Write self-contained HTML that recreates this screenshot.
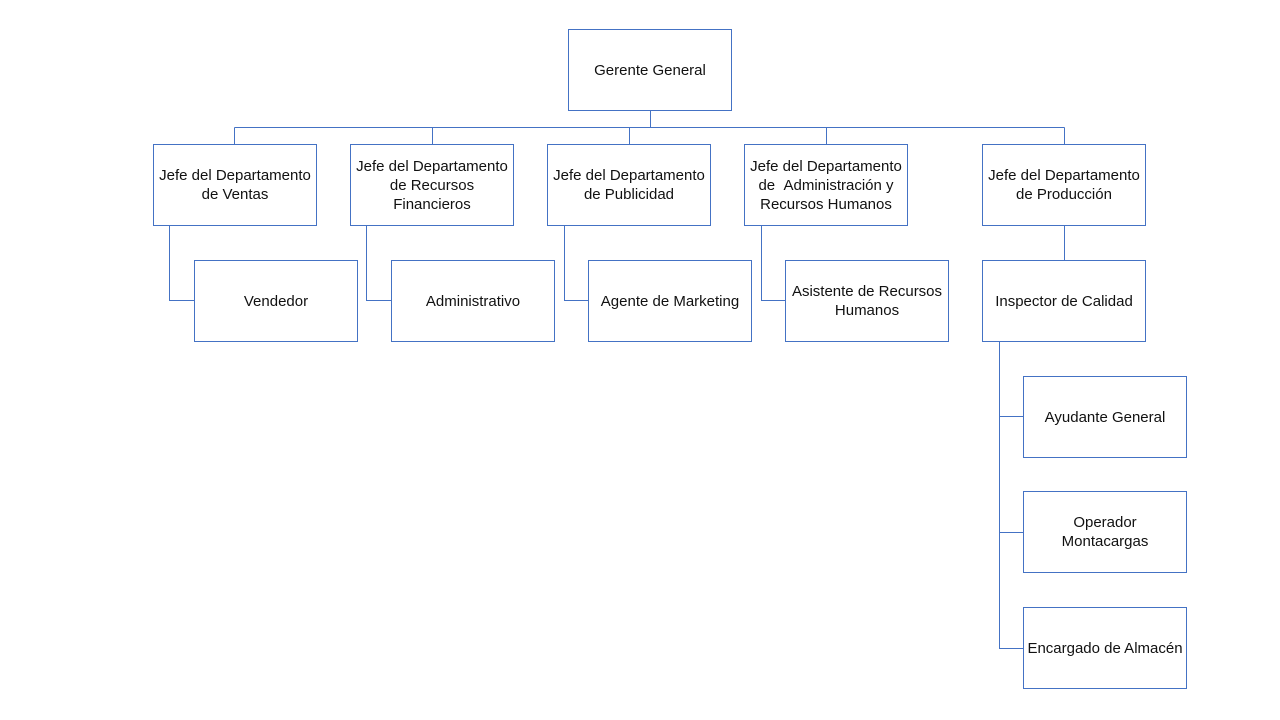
<!DOCTYPE html>
<html><head><meta charset="utf-8"><style>
body{margin:0;background:#fff;width:1280px;height:720px;position:relative;overflow:hidden;font-family:"Liberation Sans","DejaVu Sans",sans-serif}
.b{position:absolute;box-sizing:border-box;border:1px solid #4472C4;background:#fff;display:flex;align-items:center;justify-content:center;text-align:center;font-size:15px;color:#111;line-height:19px;width:164px;height:82px}
svg{position:absolute;left:0;top:0}
</style></head><body>
<svg width="1280" height="720"><g stroke="#4472C4" stroke-width="1" fill="none">
<path d="M650.5 110V127.5M234.5 127.5H1064.5M234.5 127.5V144M432.5 127.5V144M629.5 127.5V144M826.5 127.5V144M1064.5 127.5V144"/>
<path d="M169.5 226V300.5H194M366.5 226V300.5H391M564.5 226V300.5H588M761.5 226V300.5H785M1064.5 226V260"/>
<path d="M999.5 342V648.5H1023M999.5 416.5H1023M999.5 532.5H1023"/>
</g></svg>
<div class="b" style="left:568px;top:29px">Gerente General</div>
<div class="b" style="left:153px;top:144px">Jefe del Departamento<br>de Ventas</div>
<div class="b" style="left:350px;top:144px">Jefe del Departamento<br>de Recursos<br>Financieros</div>
<div class="b" style="left:547px;top:144px">Jefe del Departamento<br>de Publicidad</div>
<div class="b" style="left:744px;top:144px">Jefe del Departamento<br>de &nbsp;Administración y<br>Recursos Humanos</div>
<div class="b" style="left:982px;top:144px">Jefe del Departamento<br>de Producción</div>
<div class="b" style="left:194px;top:260px">Vendedor</div>
<div class="b" style="left:391px;top:260px">Administrativo</div>
<div class="b" style="left:588px;top:260px">Agente de Marketing</div>
<div class="b" style="left:785px;top:260px">Asistente de Recursos<br>Humanos</div>
<div class="b" style="left:982px;top:260px">Inspector de Calidad</div>
<div class="b" style="left:1023px;top:376px">Ayudante General</div>
<div class="b" style="left:1023px;top:491px">Operador<br>Montacargas</div>
<div class="b" style="left:1023px;top:607px">Encargado de Almacén</div>
</body></html>
